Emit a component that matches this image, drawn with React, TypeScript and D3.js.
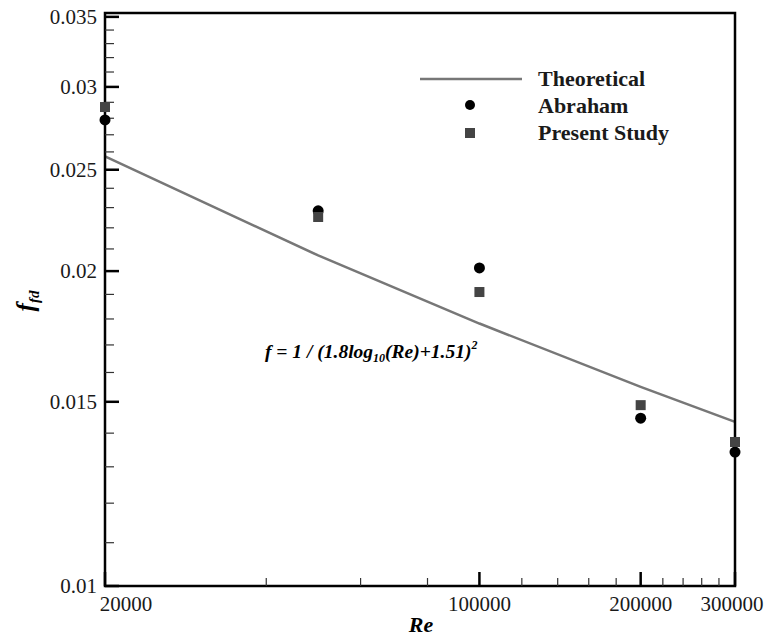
import React from "react";
import * as d3 from "d3";

const reValues = [20000, 50000, 100000, 200000, 300000];
const theoretical = [0.02575, 0.0207, 0.01782, 0.0155, 0.01435];
const abraham = [0.0279, 0.02284, 0.02014, 0.01447, 0.01343];
const presentStudy = [0.0287, 0.02253, 0.0191, 0.01489, 0.01373];

const xMajorTicks = [20000, 100000, 200000, 300000];
const xMajorLabels = ["20000", "100000", "200000", "300000"];
const xMinorTicks = [40000, 60000, 80000, 120000, 140000, 160000, 180000, 220000, 240000, 260000, 280000];
const yMajorTicks = [0.01, 0.015, 0.02, 0.025, 0.03, 0.035];
const yMajorLabels = ["0.01", "0.015", "0.02", "0.025", "0.03", "0.035"];
const yMinorTicks = [0.011, 0.012, 0.013, 0.014, 0.016, 0.017, 0.018, 0.019, 0.021, 0.022, 0.023, 0.024, 0.026, 0.027, 0.028, 0.029, 0.031, 0.032, 0.033, 0.034];

const W = 768;
const H = 639;
const L = 105, R = 735, T = 13, B = 586;

export default function App() {
  const x = d3.scaleLog().domain([20000, 300000]).range([L, R]);
  const y = d3.scaleLog().domain([0.01, 0.0353]).range([B, T]);
  const line = d3
    .line<number>()
    .x((_, i) => x(reValues[i]))
    .y((d) => y(d));
  const font = "'Liberation Serif', 'Times New Roman', serif";
  const txt = "#1a1a1a";
  return (
    <svg
      width={W}
      height={H}
      style={{ position: "absolute", left: 0, top: 0, background: "#fff" }}
      fontFamily={font}
    >
      {/* theoretical line */}
      <path d={line(theoretical) || ""} fill="none" stroke="#777" strokeWidth={2.5} />

      {/* axes frame */}
      <rect x={L} y={T} width={R - L} height={B - T} fill="none" stroke="#000" strokeWidth={2.5} />

      {/* y ticks */}
      {yMajorTicks.map((t, i) => (
        <g key={"ym" + i}>
          <line x1={L} x2={L + 14} y1={y(t)} y2={y(t)} stroke="#000" strokeWidth={2.5} />
          <text x={97} y={y(t) + 7} textAnchor="end" fontSize={21} fill={txt}>
            {yMajorLabels[i]}
          </text>
        </g>
      ))}
      {yMinorTicks.map((t, i) => (
        <line key={"yn" + i} x1={L} x2={L + 9} y1={y(t)} y2={y(t)} stroke="#333" strokeWidth={1.2} />
      ))}

      {/* x ticks */}
      {xMajorTicks.map((t, i) => (
        <g key={"xm" + i}>
          <line x1={x(t)} x2={x(t)} y1={B} y2={B - 14} stroke="#000" strokeWidth={2.5} />
          <text
            x={i === 0 ? x(t) + 21 : i === xMajorTicks.length - 1 ? x(t) - 3 : x(t)}
            y={611}
            textAnchor="middle"
            fontSize={21}
            fill={txt}
          >
            {xMajorLabels[i]}
          </text>
        </g>
      ))}
      {xMinorTicks.map((t, i) => (
        <line key={"xn" + i} x1={x(t)} x2={x(t)} y1={B} y2={B - 8} stroke="#333" strokeWidth={1.2} />
      ))}

      {/* data markers */}
      {abraham.map((v, i) => (
        <circle key={"a" + i} cx={x(reValues[i])} cy={y(v)} r={5.5} fill="#000" />
      ))}
      {presentStudy.map((v, i) => (
        <rect key={"p" + i} x={x(reValues[i]) - 5} y={y(v) - 5} width={10} height={10} fill="#444" />
      ))}

      {/* axis titles */}
      <text x={421} y={632} textAnchor="middle" fontSize={22} fontWeight="bold" fontStyle="italic" fill="#000">
        Re
      </text>
      <text
        transform="translate(34,301) rotate(-90)"
        textAnchor="middle"
        fontSize={25}
        fontWeight="bold"
        fontStyle="italic"
        fill="#000"
      >
        f
        <tspan fontSize={15} dy={5}>fd</tspan>
      </text>

      {/* formula */}
      <text x={265} y={358} fontSize={19.5} fontWeight="bold" fontStyle="italic" fill="#000">
        f = 1 / (1.8log
        <tspan fontSize={12} dy={4}>10</tspan>
        <tspan dy={-4}>(Re)+1.51)</tspan>
        <tspan fontSize={12} dy={-9}>2</tspan>
      </text>

      {/* legend */}
      <line x1={420} x2={522} y1={79} y2={79} stroke="#777" strokeWidth={2.5} />
      <text x={538} y={86} fontSize={22} fontWeight="bold" fill={txt}>Theoretical</text>
      <circle cx={470} cy={105} r={5} fill="#000" />
      <text x={538} y={113} fontSize={22} fontWeight="bold" fill={txt}>Abraham</text>
      <rect x={465} y={128} width={10} height={10} fill="#444" />
      <text x={538} y={140} fontSize={22} fontWeight="bold" fill={txt}>Present Study</text>
    </svg>
  );
}
